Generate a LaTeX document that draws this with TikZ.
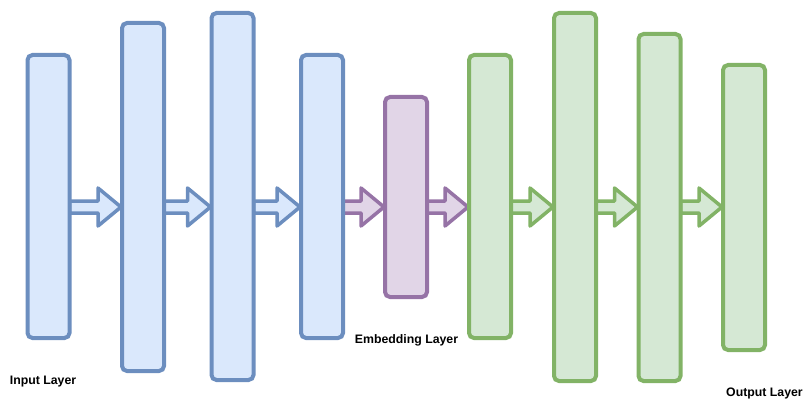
\documentclass[tikz,border=0pt]{standalone}
\usepackage{fontspec}
\setmainfont{Liberation Sans}
\usetikzlibrary{calc}
\pgfdeclarelayer{bg}
\pgfsetlayers{bg,main}
\definecolor{bfill}{HTML}{DAE8FC}
\definecolor{bline}{HTML}{6C8EBF}
\definecolor{pfill}{HTML}{E1D5E7}
\definecolor{pline}{HTML}{9673A6}
\definecolor{gfill}{HTML}{D5E8D4}
\definecolor{gline}{HTML}{82B366}
\newcommand\fatarrow[3]{%
  \draw[#1] ($(#2.east |- ay)+(0,-6)$) -- ($(#3.west |- ay)+(-24,-6)$) -- ($(#3.west |- ay)+(-24,-19)$)
    -- ($(#3.west |- ay)+(-1,0)$) -- ($(#3.west |- ay)+(-24,19)$) -- ($(#3.west |- ay)+(-24,6)$)
    -- ($(#2.east |- ay)+(0,6)$) -- cycle;}
\begin{document}
\begin{tikzpicture}[x=1pt,y=-1pt,
  layer/.style={draw, rounded corners=5pt, line width=4pt, minimum width=42pt, inner sep=0pt, outer sep=0pt},
  bluelayer/.style={layer, fill=bfill, draw=bline},
  purplelayer/.style={layer, fill=pfill, draw=pline},
  greenlayer/.style={layer, fill=gfill, draw=gline},
  arr/.style={line width=3.5pt, line join=round},
  bluearr/.style={arr, fill=bfill, draw=bline},
  purplearr/.style={arr, fill=pfill, draw=pline},
  greenarr/.style={arr, fill=gfill, draw=gline},
  lbl/.style={font=\fontsize{12.3}{14}\selectfont\bfseries, inner sep=0pt}]
\useasboundingbox (0,0) rectangle (803,401);
\coordinate (ay) at (0,207);
\node[bluelayer, minimum height=283pt] (b1) at (48.5,196.5) {};
\node[bluelayer, minimum height=348pt] (b2) at (143,197) {};
\node[bluelayer, minimum height=367pt] (b3) at (232.5,196.5) {};
\node[bluelayer, minimum height=283pt] (b4) at (322,196.5) {};
\node[purplelayer, minimum height=200pt] (e1) at (406,197) {};
\node[greenlayer, minimum height=283pt] (g1) at (490,196.5) {};
\node[greenlayer, minimum height=368pt] (g2) at (575,197) {};
\node[greenlayer, minimum height=347pt] (g3) at (659.5,207.5) {};
\node[greenlayer, minimum height=285pt] (g4) at (744,207.5) {};
\begin{pgfonlayer}{bg}
\fatarrow{bluearr}{b1}{b2}
\fatarrow{bluearr}{b2}{b3}
\fatarrow{bluearr}{b3}{b4}
\fatarrow{purplearr}{b4}{e1}
\fatarrow{purplearr}{e1}{g1}
\fatarrow{greenarr}{g1}{g2}
\fatarrow{greenarr}{g2}{g3}
\fatarrow{greenarr}{g3}{g4}
\end{pgfonlayer}
\node[lbl] (inlbl) at (43,382) {Input Layer};
\node[lbl] (emblbl) at (406.5,340) {Embedding Layer};
\node[lbl, anchor=west] (outlbl) at (726,393) {Output Layer};
\end{tikzpicture}
\end{document}
